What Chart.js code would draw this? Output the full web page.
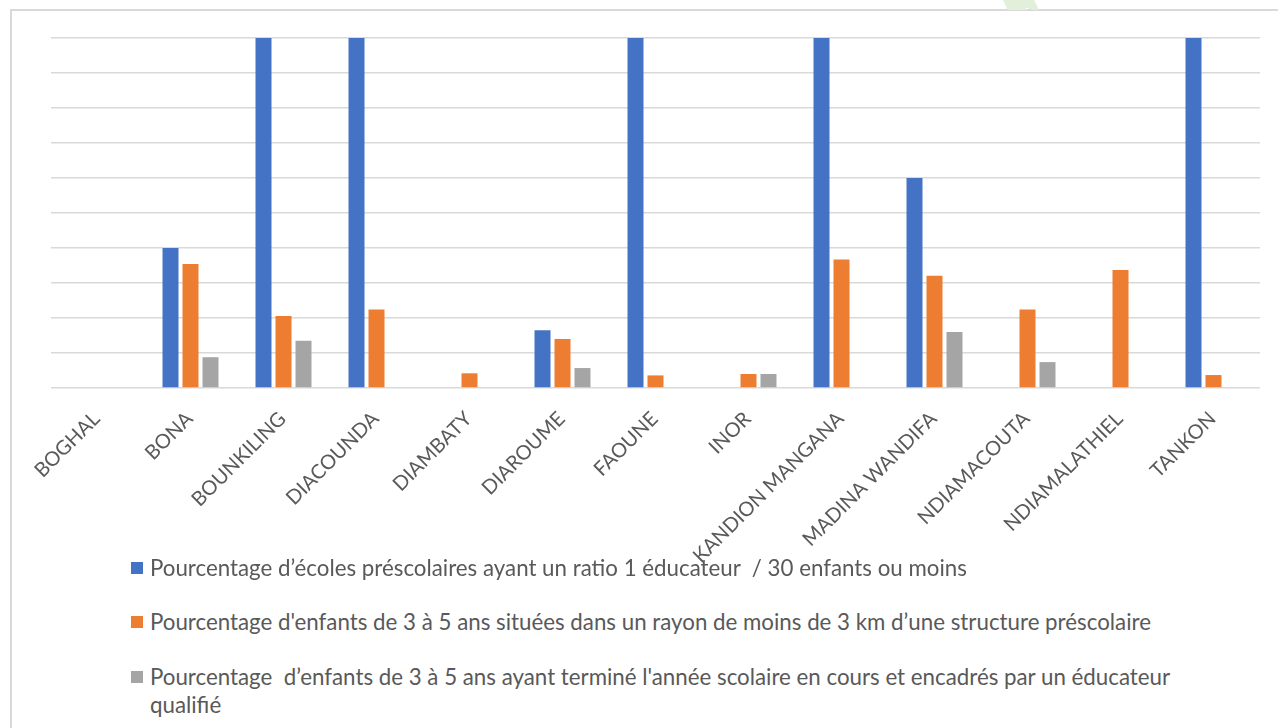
<!DOCTYPE html>
<html>
<head>
<meta charset="utf-8">
<script src="https://cdn.jsdelivr.net/npm/chart.js@4.4.1/dist/chart.umd.min.js"></script>
<style>
  body { margin: 0; background: #fff; }
  #wrap { position: relative; width: 1278px; height: 728px; overflow: hidden; font-family: Lato, "Open Sans", sans-serif; }
  #frame { position: absolute; left: 10px; top: 9px; width: 1400px; height: 800px; border-left: 2px solid #d9d9d9; border-top: 2px solid #d9d9d9; }
  #mark { position: absolute; left: 1003px; top: 0; width: 60px; height: 10px; background: #e2efda;
          clip-path: polygon(0 0, 30% 0, 40% 100%, 8% 100%, 0 0, 45% 0, 52% 0, 60% 100%, 50% 100%); }
  #can-div { position: absolute; left: 0; top: 0; width: 1278px; height: 600px; }
  #legend { position: absolute; left: 131px; top: 554px; color: #595959; font-size: 22.3px; }
  .item { position: absolute; left: 0; width: 1040px; line-height: 28px; padding-left: 19px; }
  .box { position: absolute; left: 0; top: 8px; width: 12px; height: 12px; }
</style>
</head>
<body>
<div id="wrap">
  <div id="frame"></div>
  <div id="mark"></div>
  <div id="can-div"><canvas id="myChart"></canvas></div>
  <div id="legend"></div>
</div>
<script>
// communes
var categories = ["BOGHAL", "BONA", "BOUNKILING", "DIACOUNDA", "DIAMBATY", "DIAROUME", "FAOUNE",
  "INOR", "KANDION MANGANA", "MADINA WANDIFA", "NDIAMACOUTA", "NDIAMALATHIEL", "TANKON"];

// series (percent)
var ratioEcoles   = [0, 40, 100, 100, 0, 16.5, 100, 0, 100, 60, 0, 0, 100];
var rayon3km      = [0, 35.4, 20.6, 22.4, 4.2, 14.0, 3.6, 4.0, 36.7, 32.1, 22.4, 33.7, 3.7];
var educQualifie  = [0, 8.8, 13.5, 0, 0, 5.7, 0, 4.0, 0, 16.0, 7.4, 0, 0];

var seriesNames = [
  "Pourcentage d’écoles préscolaires ayant un ratio 1 éducateur \u00a0/ 30 enfants ou moins",
  "Pourcentage d'enfants de 3 à 5 ans situées dans un rayon de moins de 3 km d’une structure préscolaire",
  "Pourcentage \u00a0d’enfants de 3 à 5 ans ayant terminé l'année scolaire en cours et encadrés par un éducateur qualifié"
];
var seriesColors = ["#4472C4", "#ED7D31", "#A5A5A5"];

var yTicks = [0, 10, 20, 30, 40, 50, 60, 70, 80, 90, 100];

var allSeries = [ratioEcoles, rayon3km, educQualifie];
var datasets = [];
for (var i = 0; i < allSeries.length; i++) {
  datasets.push({
    label: seriesNames[i],
    data: allSeries[i],
    backgroundColor: seriesColors[i],
    barPercentage: 0.8,
    categoryPercentage: 0.645
  });
}

const config = {
  type: 'bar',
  data: { labels: categories, datasets: datasets },
  options: {
    responsive: true,
    maintainAspectRatio: false,
    animation: false,
    layout: { padding: { left: 51, right: 18, top: 38, bottom: 0 } },
    plugins: { legend: { display: false }, tooltip: { enabled: false } },
    scales: {
      x: {
        grid: { display: false },
        border: { display: false },
        ticks: {
          color: '#595959',
          font: { family: 'Lato', size: 20 },
          maxRotation: 45,
          minRotation: 45,
          autoSkip: false,
          padding: 11,
          labelOffset: -1
        },
        // keep the plot baseline at the same height as the original
        afterFit: function(scale) { scale.height = 212; }
      },
      y: {
        min: yTicks[0],
        max: yTicks[yTicks.length - 1],
        border: { display: false },
        grid: { color: '#d9d9d9', lineWidth: 1.6, drawTicks: false },
        ticks: { display: false, stepSize: yTicks[1] - yTicks[0] }
      }
    }
  }
};

const myChart = new Chart(document.getElementById('myChart'), config);

// legend under the chart
var leg = document.getElementById('legend');
var tops = [0, 54, 109];
for (var i = 0; i < datasets.length; i++) {
  var it = document.createElement('div');
  it.className = 'item';
  it.style.top = tops[i] + 'px';
  it.innerHTML = '<span class="box" style="background:' + datasets[i].backgroundColor + '"></span>' + datasets[i].label;
  leg.appendChild(it);
}
</script>
</body>
</html>
